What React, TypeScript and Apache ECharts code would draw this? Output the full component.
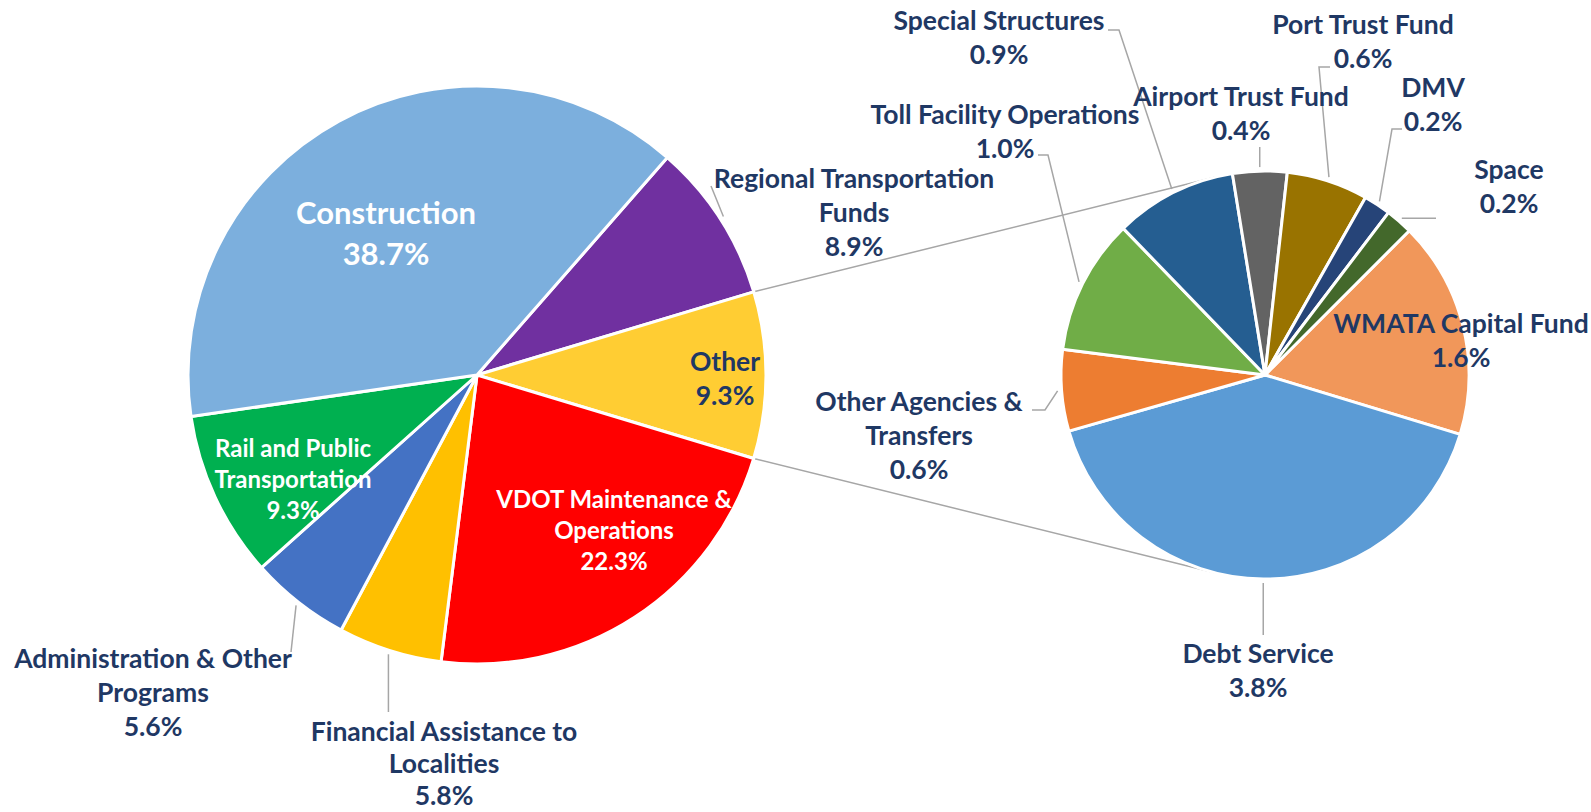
import React, { useEffect, useRef } from 'react';
import * as echarts from 'echarts';

// ---------- data ----------
const mainCategories = [
  'Regional Transportation\nFunds',
  'Other',
  'VDOT Maintenance &\nOperations',
  'Financial Assistance to\nLocalities',
  'Administration & Other\nPrograms',
  'Rail and Public\nTransportation',
  'Construction',
];
const mainValues = [8.9, 9.3, 22.3, 5.8, 5.6, 9.3, 38.7];
const mainColors = ['#7030A0', '#FFCD33', '#FF0000', '#FFC000', '#4472C4', '#00B050', '#7CAFDD'];

const subCategories = [
  'WMATA Capital Fund',
  'Debt Service',
  'Other Agencies &\nTransfers',
  'Toll Facility Operations',
  'Special Structures',
  'Airport Trust Fund',
  'Port Trust Fund',
  'DMV',
  'Space',
];
const subValues = [1.6, 3.8, 0.6, 1.0, 0.9, 0.4, 0.6, 0.2, 0.2];
const subColors = ['#F1975A', '#5B9BD5', '#ED7D31', '#70AD47', '#255E91', '#636363', '#997300', '#264478', '#43682B'];

// ---------- layout / style ----------
const FONT = 'Lato, "Open Sans", sans-serif';
const NAVY = '#1F3864';
const LINE_GRAY = '#A6A6A6';
const MAIN_CENTER: [number, number] = [477, 375];
const MAIN_RADIUS = 289;
const SUB_CENTER: [number, number] = [1265, 375];
const SUB_RADIUS = 204;
const GAP = 4;

type Pt = [number | null, number | null];
type LabelSpec = { x: number; y: number; inside?: boolean; white?: boolean; big?: boolean; lh?: number; line?: Pt[] };

const mainLabels: LabelSpec[] = [
  { x: 854, y: 212, line: [[711, 186]] },
  { x: 725, y: 378, inside: true },
  { x: 614, y: 529, inside: true, white: true },
  { x: 444, y: 763, lh: 32, line: [[null, 712]] },
  { x: 153, y: 692, line: [[291, 652]] },
  { x: 293, y: 478, inside: true, white: true },
  { x: 386, y: 232, inside: true, white: true, big: true },
];
const subLabels: LabelSpec[] = [
  { x: 1461, y: 340, inside: true },
  { x: 1258, y: 670, line: [[null, 635]] },
  { x: 919, y: 435, line: [[1045, 410], [1032, 410]] },
  { x: 1005, y: 131, line: [[1048, 155], [1038, 155]] },
  { x: 999, y: 37, line: [[1119, 30], [1108, 30]] },
  { x: 1241, y: 113, line: [[null, 147]] },
  { x: 1363, y: 41, line: [[1319, 67], [1330, 67]] },
  { x: 1433, y: 104, line: [[1392, 129], [1402, 129]] },
  { x: 1509, y: 186, line: [[1436, null]] },
];

function buildSeries(
  id: string,
  names: string[],
  values: number[],
  colors: string[],
  labels: LabelSpec[],
  center: [number, number],
  radius: number,
  startAngle: number
) {
  return {
    type: 'pie',
    id,
    center,
    radius,
    startAngle,
    clockwise: true,
    avoidLabelOverlap: false,
    silent: true,
    emphasis: { disabled: true },
    itemStyle: { borderColor: '#ffffff', borderWidth: 3 },
    label: {
      show: true,
      fontFamily: FONT,
      fontWeight: 'bold',
      fontSize: 26.5,
      lineHeight: 34,
      color: NAVY,
      formatter: (p: any) => `${p.name}\n${Number(p.value).toFixed(1)}%`,
    },
    labelLine: { show: true, smooth: false, lineStyle: { color: LINE_GRAY, width: 1.5 } },
    data: names.map((n, i) => {
      const s = labels[i];
      return {
        name: n,
        value: values[i],
        itemStyle: { color: colors[i] },
        label: {
          position: s.inside ? 'inside' : 'outside',
          color: s.white ? '#ffffff' : NAVY,
          fontSize: s.big ? 31 : s.white ? 24 : 26.5,
          lineHeight: s.lh ? s.lh : s.big ? 41 : s.white ? 31 : 34,
        },
        labelLine: { show: !s.inside },
      };
    }),
    labelLayout: (params: any) => {
      const s = labels[params.dataIndex];
      const res: any = { x: s.x, y: s.y, align: 'center', verticalAlign: 'middle' };
      if (s.line && params.labelLinePoints && params.labelLinePoints.length) {
        const p0 = params.labelLinePoints[0];
        const dx = p0[0] - center[0];
        const dy = p0[1] - center[1];
        const d = Math.hypot(dx, dy) || 1;
        const st: [number, number] = [p0[0] + (dx / d) * GAP, p0[1] + (dy / d) * GAP];
        const pts: number[][] = [st];
        s.line.forEach(([lx, ly]) => pts.push([lx == null ? st[0] : lx, ly == null ? st[1] : ly]));
        res.labelLinePoints = pts;
      }
      return res;
    },
  };
}

function tangentPoint(P: number[], C: number[], R: number, sign: number) {
  const dx = P[0] - C[0];
  const dy = P[1] - C[1];
  const d = Math.hypot(dx, dy);
  const th = Math.atan2(dy, dx);
  const a = Math.acos(Math.min(1, R / d));
  const t = th + sign * a;
  return [C[0] + R * Math.cos(t), C[1] + R * Math.sin(t)];
}

export default function App() {
  const ref = useRef<HTMLDivElement>(null);
  useEffect(() => {
    const el = ref.current;
    if (!el) return;
    const chart = echarts.init(el, null, { renderer: 'svg' });
    const option: any = {
      animation: false,
      backgroundColor: '#ffffff',
      series: [
        buildSeries('main', mainCategories, mainValues, mainColors, mainLabels, MAIN_CENTER, MAIN_RADIUS, 48.8),
        buildSeries('sub', subCategories, subValues, subColors, subLabels, SUB_CENTER, SUB_RADIUS, 45),
      ],
    };
    chart.setOption(option);

    try {
      const model = (chart as any).getModel();
      const mainData = model.getSeriesByIndex(0).getData();
      const subData = model.getSeriesByIndex(1).getData();
      const otherIdx = mainCategories.indexOf('Other');
      const lay = mainData.getItemLayout(otherIdx);
      const sl = subData.getItemLayout(0);
      const p1 = [lay.cx + lay.r * Math.cos(lay.startAngle), lay.cy + lay.r * Math.sin(lay.startAngle)];
      const p2 = [lay.cx + lay.r * Math.cos(lay.endAngle), lay.cy + lay.r * Math.sin(lay.endAngle)];
      const top = p1[1] < p2[1] ? p1 : p2;
      const bot = p1[1] < p2[1] ? p2 : p1;
      const C = [sl.cx, sl.cy];
      const t1 = tangentPoint(top, C, sl.r, 1);
      const t2 = tangentPoint(bot, C, sl.r, -1);
      const ls = { stroke: LINE_GRAY, lineWidth: 1.5 };
      chart.setOption({
        graphic: [
          { type: 'line', silent: true, z: 0, shape: { x1: top[0], y1: top[1], x2: t1[0], y2: t1[1] }, style: ls },
          { type: 'line', silent: true, z: 0, shape: { x1: bot[0], y1: bot[1], x2: t2[0], y2: t2[1] }, style: ls },
        ],
      });
    } catch (e) {
      // ignore
    }
    return () => chart.dispose();
  }, []);
  return <div ref={ref} style={{ position: 'absolute', left: 0, top: 0, width: 1591, height: 812 }} />;
}
